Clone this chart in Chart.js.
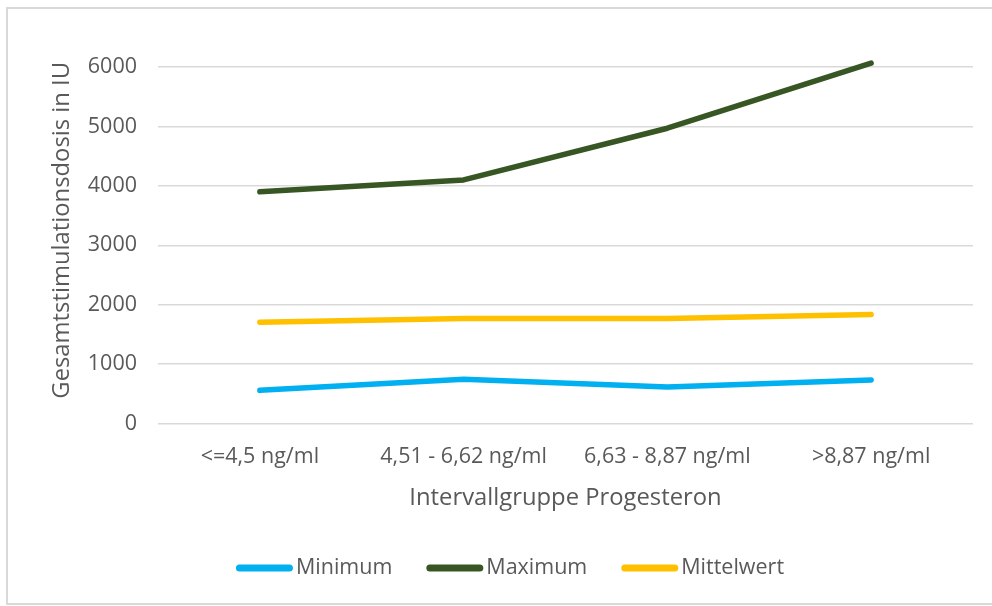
<!DOCTYPE html>
<html lang="de">
<head>
<meta charset="utf-8">
<title>Gesamtstimulationsdosis nach Intervallgruppe Progesteron</title>
<script src="https://cdn.jsdelivr.net/npm/chart.js@4/dist/chart.umd.min.js"></script>
<style>
  html, body { margin: 0; padding: 0; background: #ffffff; }
  #wrap { position: relative; width: 992px; height: 606px; overflow: hidden; background: #ffffff; }
  #frame { position: absolute; left: 6px; top: 7px; width: 1100px; height: 598px;
           box-sizing: border-box; border: 2px solid #d9d9d9; }
  #chart { position: absolute; left: 0; top: 0; }
</style>
</head>
<body>
<div id="wrap">
  <div id="frame"></div>
  <canvas id="chart" width="992" height="606"></canvas>
</div>
<script>
// Progesterone interval groups (x axis)
const categories = ['<=4,5 ng/ml', '4,51 - 6,62 ng/ml', '6,63 - 8,87 ng/ml', '>8,87 ng/ml'];

// Total stimulation dose in IU per group
const minimum    = [560, 745, 615, 735];
const maximum    = [3900, 4100, 4970, 6065];
const mittelwert = [1705, 1770, 1770, 1835];

// Y tick values
const yTicks = [0, 1000, 2000, 3000, 4000, 5000, 6000];

const seriesNames = ['Minimum', 'Maximum', 'Mittelwert'];
const yTitle = 'Gesamtstimulationsdosis in IU';
const xTitle = 'Intervallgruppe Progesteron';

const TEXT = '#595959';
const GRID = '#d9d9d9';
const FONT = "'Open Sans', 'Liberation Sans', sans-serif";

// Rotated y-axis title, placed left of the tick labels
const yAxisTitle = {
  id: 'yAxisTitle',
  afterDraw(chart, args, opts) {
    const { ctx, chartArea } = chart;
    ctx.save();
    ctx.font = `${opts.size}px ${FONT}`;
    ctx.fillStyle = TEXT;
    ctx.textAlign = 'center';
    ctx.textBaseline = 'middle';
    ctx.translate(chartArea.left - opts.offsetX, (chartArea.top + chartArea.bottom) / 2 - opts.shiftY);
    ctx.rotate(-Math.PI / 2);
    ctx.fillText(opts.text, 0, 0);
    ctx.restore();
  }
};

// Line-sample legend under the axis title
const lineLegend = {
  id: 'lineLegend',
  afterDraw(chart, args, opts) {
    const { ctx } = chart;
    const sets = chart.data.datasets;
    ctx.save();
    ctx.font = `${opts.size}px ${FONT}`;
    const widths = sets.map(ds => ctx.measureText(ds.label).width);
    const itemW = widths.map(w => opts.sample + opts.gap + w);
    const total = itemW.reduce((a, b) => a + b, 0) + opts.spacing * (sets.length - 1);
    let x = opts.centerX - total / 2;
    const y = opts.y;
    sets.forEach((ds, i) => {
      ctx.beginPath();
      ctx.lineCap = 'round';
      ctx.lineWidth = opts.lineWidth;
      ctx.strokeStyle = ds.borderColor;
      ctx.moveTo(x + opts.lineWidth / 2, y);
      ctx.lineTo(x + opts.sample - opts.lineWidth / 2, y);
      ctx.stroke();
      ctx.fillStyle = TEXT;
      ctx.textAlign = 'left';
      ctx.textBaseline = 'middle';
      ctx.fillText(ds.label, x + opts.sample + opts.gap, y);
      x += itemW[i] + opts.spacing;
    });
    ctx.restore();
  }
};

const lineStyle = {
  borderWidth: 5.5,
  pointRadius: 0,
  pointHoverRadius: 0,
  tension: 0,
  borderCapStyle: 'round',
  borderJoinStyle: 'round',
  clip: false,
  fill: false
};

new Chart(document.getElementById('chart'), {
  type: 'line',
  data: {
    labels: categories,
    datasets: [
      Object.assign({ label: seriesNames[0], data: minimum,    borderColor: '#00b0f0', backgroundColor: '#00b0f0' }, lineStyle),
      Object.assign({ label: seriesNames[1], data: maximum,    borderColor: '#375623', backgroundColor: '#375623' }, lineStyle),
      Object.assign({ label: seriesNames[2], data: mittelwert, borderColor: '#ffc000', backgroundColor: '#ffc000' }, lineStyle)
    ]
  },
  options: {
    responsive: false,
    animation: false,
    devicePixelRatio: 1,
    layout: { padding: { top: 67, right: 19, bottom: 94, left: 8 } },
    plugins: {
      legend: { display: false },
      tooltip: { enabled: false },
      yAxisTitle: { text: yTitle, size: 23.8, offsetX: 96, shiftY: 15 },
      lineLegend: { size: 21.5, sample: 57, gap: 3, spacing: 34, lineWidth: 7, centerX: 510, y: 568 }
    },
    scales: {
      x: {
        offset: true,
        grid: { display: false, drawTicks: false, offset: true },
        border: { display: false },
        ticks: { color: TEXT, padding: 20, maxRotation: 0, autoSkip: false,
                 font: { family: FONT, size: 21.5 } },
        title: { display: true, text: xTitle, color: TEXT, padding: { top: -6, bottom: 0 },
                 font: { family: FONT, size: 23.8 } }
      },
      y: {
        min: yTicks[0],
        max: yTicks[yTicks.length - 1],
        afterFit(scale) { scale.width = 150; },
        afterBuildTicks(scale) { scale.ticks = yTicks.map(v => ({ value: v })); },
        grid: { color: GRID, lineWidth: 1.5, drawTicks: false },
        border: { display: false },
        ticks: { color: TEXT, padding: 21, callback: v => String(v),
                 font: { family: FONT, size: 21.5 } }
      }
    }
  },
  plugins: [yAxisTitle, lineLegend]
});
</script>
</body>
</html>
